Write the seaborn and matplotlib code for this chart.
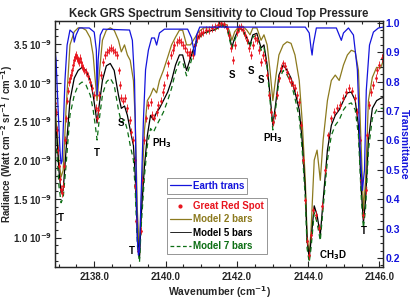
import matplotlib
matplotlib.use("Agg")
import matplotlib.pyplot as plt
import seaborn as sns
from matplotlib.lines import Line2D
from matplotlib.ticker import MultipleLocator, FuncFormatter

# wavenumber grid (cm-1) shared by the three cloud-top models
model_wn = [2136.87, 2136.96, 2137.01, 2137.07, 2137.13, 2137.21, 2137.32, 2137.44, 2137.55, 2137.66,
            2137.77, 2137.89, 2137.97, 2138.03, 2138.08, 2138.14, 2138.23, 2138.34, 2138.45, 2138.56,
            2138.68, 2138.76, 2138.85, 2138.93, 2139.01, 2139.10, 2139.15, 2139.21, 2139.27, 2139.32,
            2139.41, 2139.49, 2139.58, 2139.66, 2139.75, 2139.83, 2139.94, 2140.06, 2140.17, 2140.28,
            2140.39, 2140.48, 2140.59, 2140.70, 2140.82, 2140.93, 2141.07, 2141.21, 2141.35, 2141.49,
            2141.61, 2141.72, 2141.80, 2141.86, 2141.94, 2142.06, 2142.17, 2142.28, 2142.37, 2142.45,
            2142.56, 2142.68, 2142.76, 2142.85, 2142.93, 2143.01, 2143.10, 2143.18, 2143.30, 2143.41,
            2143.52, 2143.63, 2143.75, 2143.83, 2143.92, 2143.97, 2144.03, 2144.08, 2144.17, 2144.25,
            2144.34, 2144.42, 2144.54, 2144.65, 2144.76, 2144.87, 2144.99, 2145.10, 2145.21, 2145.32,
            2145.41, 2145.49, 2145.55, 2145.61, 2145.69, 2145.80, 2145.92, 2146.03, 2146.11]

# radiance in units of 1e-9 W cm-2 sr-1 / cm-1
model2 = [2.77, 2.39, 2.00, 1.78, 1.87, 2.65, 3.49, 3.66, 3.71, 3.71,
          3.68, 3.58, 3.36, 3.03, 2.77, 3.10, 3.55, 3.68, 3.71, 3.68,
          3.55, 3.40, 3.49, 3.36, 3.29, 3.03, 2.52, 1.35, 0.77, 1.48,
          2.39, 2.77, 2.84, 2.93, 2.87, 3.03, 3.16, 3.33, 3.49, 3.59,
          3.68, 3.68, 3.49, 3.49, 3.58, 3.66, 3.71, 3.71, 3.72, 3.75,
          3.76, 3.75, 3.66, 3.55, 3.66, 3.73, 3.73, 3.68, 3.62, 3.71,
          3.71, 3.55, 3.62, 3.49, 3.16, 2.77, 3.10, 3.36, 3.49, 3.53,
          3.51, 3.36, 3.03, 2.52, 1.74, 1.03, 0.77, 1.09, 2.00, 2.13,
          1.74, 2.26, 2.77, 3.03, 3.10, 3.03, 3.23, 3.36, 3.42, 3.40,
          3.16, 2.13, 1.35, 1.74, 2.77, 3.07, 3.20, 3.19, 3.29]

model5 = [2.67, 2.26, 1.87, 1.58, 1.61, 2.13, 2.77, 3.06, 3.16, 3.20,
          3.16, 3.03, 2.84, 2.65, 2.48, 2.71, 3.03, 3.22, 3.25, 3.16,
          2.84, 2.67, 2.70, 2.58, 2.39, 2.19, 1.80, 1.03, 0.73, 1.29,
          1.93, 2.32, 2.58, 2.52, 2.62, 2.67, 2.77, 2.88, 3.03, 3.23,
          3.36, 3.36, 3.16, 3.32, 3.49, 3.60, 3.64, 3.67, 3.68, 3.72,
          3.75, 3.72, 3.58, 3.46, 3.58, 3.71, 3.68, 3.58, 3.49, 3.62,
          3.64, 3.45, 3.49, 3.23, 2.84, 2.45, 2.77, 3.10, 3.23, 3.16,
          3.06, 2.88, 2.65, 2.26, 1.61, 0.96, 0.73, 0.96, 1.41, 1.29,
          1.03, 1.48, 2.13, 2.45, 2.58, 2.65, 2.77, 2.87, 2.88, 2.77,
          2.45, 1.61, 1.19, 1.48, 2.26, 2.67, 2.77, 2.80, 2.81]

model7 = [2.49, 2.06, 1.67, 1.45, 1.51, 1.93, 2.58, 2.84, 2.97, 3.01,
          2.97, 2.84, 2.65, 2.45, 2.26, 2.52, 2.84, 3.01, 3.06, 2.97,
          2.65, 2.49, 2.52, 2.39, 2.19, 2.00, 1.61, 0.90, 0.68, 1.16,
          1.80, 2.19, 2.41, 2.36, 2.45, 2.52, 2.62, 2.77, 2.93, 3.14,
          3.27, 3.27, 3.09, 3.25, 3.45, 3.58, 3.63, 3.66, 3.68, 3.71,
          3.73, 3.71, 3.55, 3.44, 3.55, 3.69, 3.67, 3.55, 3.46, 3.59,
          3.62, 3.42, 3.46, 3.19, 2.77, 2.39, 2.71, 3.03, 3.16, 3.10,
          3.00, 2.80, 2.55, 2.15, 1.51, 0.86, 0.68, 0.86, 1.32, 1.19,
          0.96, 1.38, 2.00, 2.32, 2.45, 2.52, 2.65, 2.72, 2.74, 2.65,
          2.32, 1.51, 1.12, 1.38, 2.13, 2.54, 2.65, 2.67, 2.67]

# telluric transmittance
earth_wn = [2136.87, 2136.93, 2136.99, 2137.04, 2137.07, 2137.10, 2137.13, 2137.18, 2137.24, 2137.32,
            2137.41, 2137.44, 2137.49, 2137.58, 2137.86, 2138.00, 2138.06, 2138.08, 2138.11, 2138.17,
            2138.25, 2138.99, 2139.07, 2139.13, 2139.18, 2139.21, 2139.24, 2139.27, 2139.32, 2139.38,
            2139.44, 2139.52, 2139.61, 2139.69, 2139.75, 2139.83, 2139.97, 2140.62, 2140.73, 2140.82,
            2140.87, 2140.96, 2143.92, 2144.03, 2144.08, 2144.11, 2144.14, 2144.23, 2144.79, 2144.87,
            2144.93, 2144.99, 2145.13, 2145.27, 2145.38, 2145.46, 2145.52, 2145.58, 2145.63, 2145.72,
            2145.83, 2145.97, 2146.11]
earth_trans = [0.940, 0.873, 0.700, 0.567, 0.520, 0.530, 0.635, 0.805, 0.924, 0.975,
               0.965, 0.934, 0.958, 0.982, 0.982, 0.968, 0.907, 0.754, 0.873, 0.958,
               0.978, 0.975, 0.940, 0.805, 0.465, 0.260, 0.210, 0.225, 0.430, 0.670,
               0.840, 0.907, 0.948, 0.948, 0.924, 0.965, 0.978, 0.978, 0.948, 0.890,
               0.958, 0.985, 0.985, 0.965, 0.914, 0.890, 0.924, 0.982, 0.982, 0.958,
               0.940, 0.965, 0.982, 0.958, 0.840, 0.567, 0.430, 0.500, 0.770, 0.924,
               0.968, 0.982, 0.985]

# Great Red Spot observation
grs_wn = [2136.90, 2136.93, 2136.96, 2136.99, 2137.01, 2137.04, 2137.07, 2137.10, 2137.13, 2137.15,
          2137.18, 2137.21, 2137.24, 2137.27, 2137.30, 2137.32, 2137.35, 2137.38, 2137.41, 2137.44,
          2137.46, 2137.49, 2137.52, 2137.55, 2137.58, 2137.61, 2137.63, 2137.66, 2137.69, 2137.72,
          2137.77, 2137.83, 2137.89, 2137.94, 2138.00, 2138.06, 2138.08, 2138.11, 2138.14, 2138.20,
          2138.25, 2138.31, 2138.37, 2138.42, 2138.48, 2138.54, 2138.59, 2138.65, 2138.70, 2138.73,
          2138.76, 2138.82, 2138.87, 2138.93, 2138.99, 2139.04, 2139.10, 2139.13, 2139.15, 2139.18,
          2139.24, 2139.30, 2139.35, 2139.41, 2139.46, 2139.52, 2139.58, 2139.63, 2139.69, 2139.75,
          2139.80, 2139.86, 2139.92, 2139.97, 2140.03, 2140.08, 2140.14, 2140.20, 2140.25, 2140.31,
          2140.37, 2140.42, 2140.48, 2140.54, 2140.59, 2140.65, 2140.70, 2140.76, 2140.82, 2140.87,
          2140.93, 2140.99, 2141.04, 2141.13, 2141.21, 2141.30, 2141.38, 2141.46, 2141.55, 2141.63,
          2141.72, 2141.77, 2141.83, 2141.89, 2141.94, 2142.00, 2142.06, 2142.11, 2142.17, 2142.23,
          2142.28, 2142.34, 2142.39, 2142.45, 2142.51, 2142.56, 2142.62, 2142.68, 2142.73, 2142.79,
          2142.85, 2142.90, 2142.96, 2143.01, 2143.07, 2143.13, 2143.18, 2143.24, 2143.30, 2143.35,
          2143.41, 2143.46, 2143.52, 2143.58, 2143.63, 2143.69, 2143.75, 2143.80, 2143.86, 2143.92,
          2143.97, 2144.03, 2144.08, 2144.14, 2144.23, 2144.31, 2144.39, 2144.48, 2144.56, 2144.65,
          2144.73, 2144.82, 2144.90, 2144.99, 2145.07, 2145.15, 2145.24, 2145.32, 2145.38, 2145.44,
          2145.49, 2145.55, 2145.61, 2145.66, 2145.72, 2145.77, 2145.83, 2145.89, 2145.94, 2146.00,
          2146.06, 2146.11]
grs_rad = [2.74, 2.62, 2.39, 2.13, 1.93, 1.76, 1.63, 1.58, 1.67, 1.93,
           2.26, 2.54, 2.77, 2.90, 3.01, 3.06, 3.10, 3.16, 3.23, 3.29,
           3.33, 3.36, 3.32, 3.29, 3.27, 3.32, 3.27, 3.22, 3.19, 3.16,
           3.14, 3.09, 3.01, 2.93, 2.84, 2.67, 2.54, 2.65, 2.84, 3.10,
           3.27, 3.36, 3.40, 3.42, 3.45, 3.42, 3.40, 3.36, 3.16, 2.97,
           2.81, 2.77, 2.80, 2.67, 2.52, 2.36, 2.26, 2.00, 1.67, 1.22,
           0.83, 1.09, 1.74, 2.26, 2.54, 2.71, 2.75, 2.58, 2.55, 2.62,
           2.71, 2.77, 2.88, 2.97, 3.10, 3.25, 3.36, 3.42, 3.49, 3.53,
           3.55, 3.53, 3.49, 3.45, 3.40, 3.36, 3.40, 3.36, 3.49, 3.58,
           3.62, 3.64, 3.66, 3.68, 3.68, 3.71, 3.72, 3.75, 3.77, 3.76,
           3.71, 3.62, 3.45, 3.29, 3.49, 3.66, 3.71, 3.72, 3.68, 3.62,
           3.55, 3.45, 3.36, 3.49, 3.58, 3.55, 3.42, 3.27, 3.36, 3.29,
           3.10, 2.84, 2.62, 2.49, 2.58, 2.84, 3.06, 3.19, 3.25, 3.22,
           3.14, 3.06, 3.01, 2.97, 2.93, 2.84, 2.75, 2.45, 2.00, 1.48,
           0.96, 0.77, 1.03, 1.35, 1.29, 1.12, 1.41, 1.87, 2.32, 2.54,
           2.62, 2.67, 2.71, 2.81, 2.88, 2.93, 2.90, 2.80, 2.62, 2.26,
           1.74, 1.29, 1.61, 2.32, 2.71, 2.88, 2.97, 3.06, 3.16, 3.23,
           3.32, 3.36]
grs_err = 0.05

# line identifications: (label, wavenumber, radiance)
line_ids = [("T", 2137.07, 1.25), ("T", 2138.08, 2.09), ("S", 2138.76, 2.48),
            ("PH$_3$", 2139.89, 2.22), ("T", 2139.07, 0.83), ("S", 2141.86, 3.10),
            ("S", 2142.39, 3.15), ("S", 2142.68, 3.03), ("PH$_3$", 2143.01, 2.28),
            ("CH$_3$D", 2144.70, 0.77), ("T", 2145.55, 1.09)]

BLUE = "#1414dc"
OLIVE = "#8c7a1e"
GREEN = "#0c6e14"
RED = "#e8141e"

sns.set_theme(style="ticks")
plt.rcParams["font.family"] = ["Liberation Sans", "DejaVu Sans"]
plt.rcParams["font.weight"] = "bold"
plt.rcParams["mathtext.default"] = "bf"
plt.rcParams["axes.linewidth"] = 0.9

fig = plt.figure(figsize=(4.15, 3.03), dpi=100)
ax = fig.add_axes([0.1325, 0.119, 0.7905, 0.812])

sns.lineplot(x=model_wn, y=model2, ax=ax, color=OLIVE, lw=0.9, estimator=None, sort=False)
sns.lineplot(x=model_wn, y=model5, ax=ax, color="black", lw=0.9, estimator=None, sort=False)
sns.lineplot(x=model_wn, y=model7, ax=ax, color=GREEN, lw=0.9, linestyle=(0, (4, 3)),
             estimator=None, sort=False)
ax.errorbar(grs_wn, grs_rad, yerr=grs_err, fmt="none", ecolor=RED, elinewidth=0.6, capsize=0)
sns.scatterplot(x=grs_wn, y=grs_rad, ax=ax, color=RED, s=4, linewidth=0, zorder=5)

for txt, x, y in line_ids:
    ax.text(x, y, txt, ha="center", va="center", fontsize=7, fontweight="bold", color="black")

ax.set_xlim(2136.9, 2146.1)
ax.set_ylim(0.62, 3.8)
ax.xaxis.set_major_locator(MultipleLocator(2))
ax.xaxis.set_minor_locator(MultipleLocator(0.5))
ax.xaxis.set_major_formatter(FuncFormatter(lambda v, p: f"{v:.1f}"))
ax.yaxis.set_major_locator(MultipleLocator(0.5))
ax.yaxis.set_minor_locator(MultipleLocator(0.1))
ax.yaxis.set_major_formatter(FuncFormatter(lambda v, p: f"{v:.1f} 10$^{{-9}}$"))
ax.tick_params(which="both", direction="in", top=True, labelsize=7, width=0.8)
ax.tick_params(axis="y", labelsize=7, pad=2)
ax.tick_params(which="major", length=4)
ax.tick_params(which="minor", length=2)
ax.tick_params(axis="y", which="both", right=False)
ax.set_xlabel("Wavenumber (cm$^{-1}$)", fontsize=7.5, fontweight="bold", labelpad=2)
ax.set_ylabel("Radiance (Watt cm$^{-2}$ sr$^{-1}$ / cm$^{-1}$)", fontsize=7,
              fontweight="bold")
ax.yaxis.set_label_coords(-0.122, 0.5)
ax.set_title("Keck GRS Spectrum Sensitivity to Cloud Top Pressure", fontsize=8.3,
             fontweight="bold", pad=3)

ax2 = ax.twinx()
sns.lineplot(x=earth_wn, y=earth_trans, ax=ax2, color=BLUE, lw=0.9, estimator=None, sort=False)
ax2.set_ylim(0.17, 1.006)
ax2.yaxis.set_major_locator(MultipleLocator(0.1))
ax2.yaxis.set_minor_locator(MultipleLocator(0.025))
ax2.yaxis.set_major_formatter(FuncFormatter(lambda v, p: f"{v:.1f}"))
ax2.tick_params(which="both", direction="in", labelsize=7.5, labelcolor=BLUE, width=0.8, pad=2)
ax2.tick_params(which="major", length=4)
ax2.tick_params(which="minor", length=2)
ax2.set_ylabel("Transmittance", color=BLUE, fontsize=7.5, fontweight="bold",
               rotation=270, labelpad=6)
for t in ax2.get_yticklabels():
    t.set_fontweight("bold")

# two framed legends
h_earth = [Line2D([], [], color=BLUE, lw=0.9)]
leg1 = ax2.legend(h_earth, ["Earth trans"], loc="upper left", bbox_to_anchor=(0.341, 0.362),
                  fontsize=7, frameon=True, fancybox=False, edgecolor="#666666",
                  handlelength=2.2, handletextpad=0.2, borderpad=0.3, borderaxespad=0)
leg1.get_frame().set_linewidth(0.6)
leg1.get_texts()[0].set_color(BLUE)
ax2.add_artist(leg1)

h_rest = [Line2D([], [], color=RED, marker="o", ms=2, lw=0),
          Line2D([], [], color=OLIVE, lw=0.9),
          Line2D([], [], color="black", lw=0.6),
          Line2D([], [], color=GREEN, lw=0.9, linestyle=(0, (3, 2)))]
leg2 = ax2.legend(h_rest, ["Great Red Spot", "Model 2 bars", "Model 5 bars", "Model 7 bars"],
                  loc="upper left", bbox_to_anchor=(0.341, 0.28), fontsize=7, frameon=True,
                  fancybox=False, edgecolor="#666666", handlelength=2.2, handletextpad=0.2,
                  borderpad=0.3, labelspacing=0.35, borderaxespad=0)
leg2.get_frame().set_linewidth(0.6)
for t, c in zip(leg2.get_texts(), [RED, OLIVE, "black", GREEN]):
    t.set_color(c)

fig.savefig("out.png", dpi=100)
